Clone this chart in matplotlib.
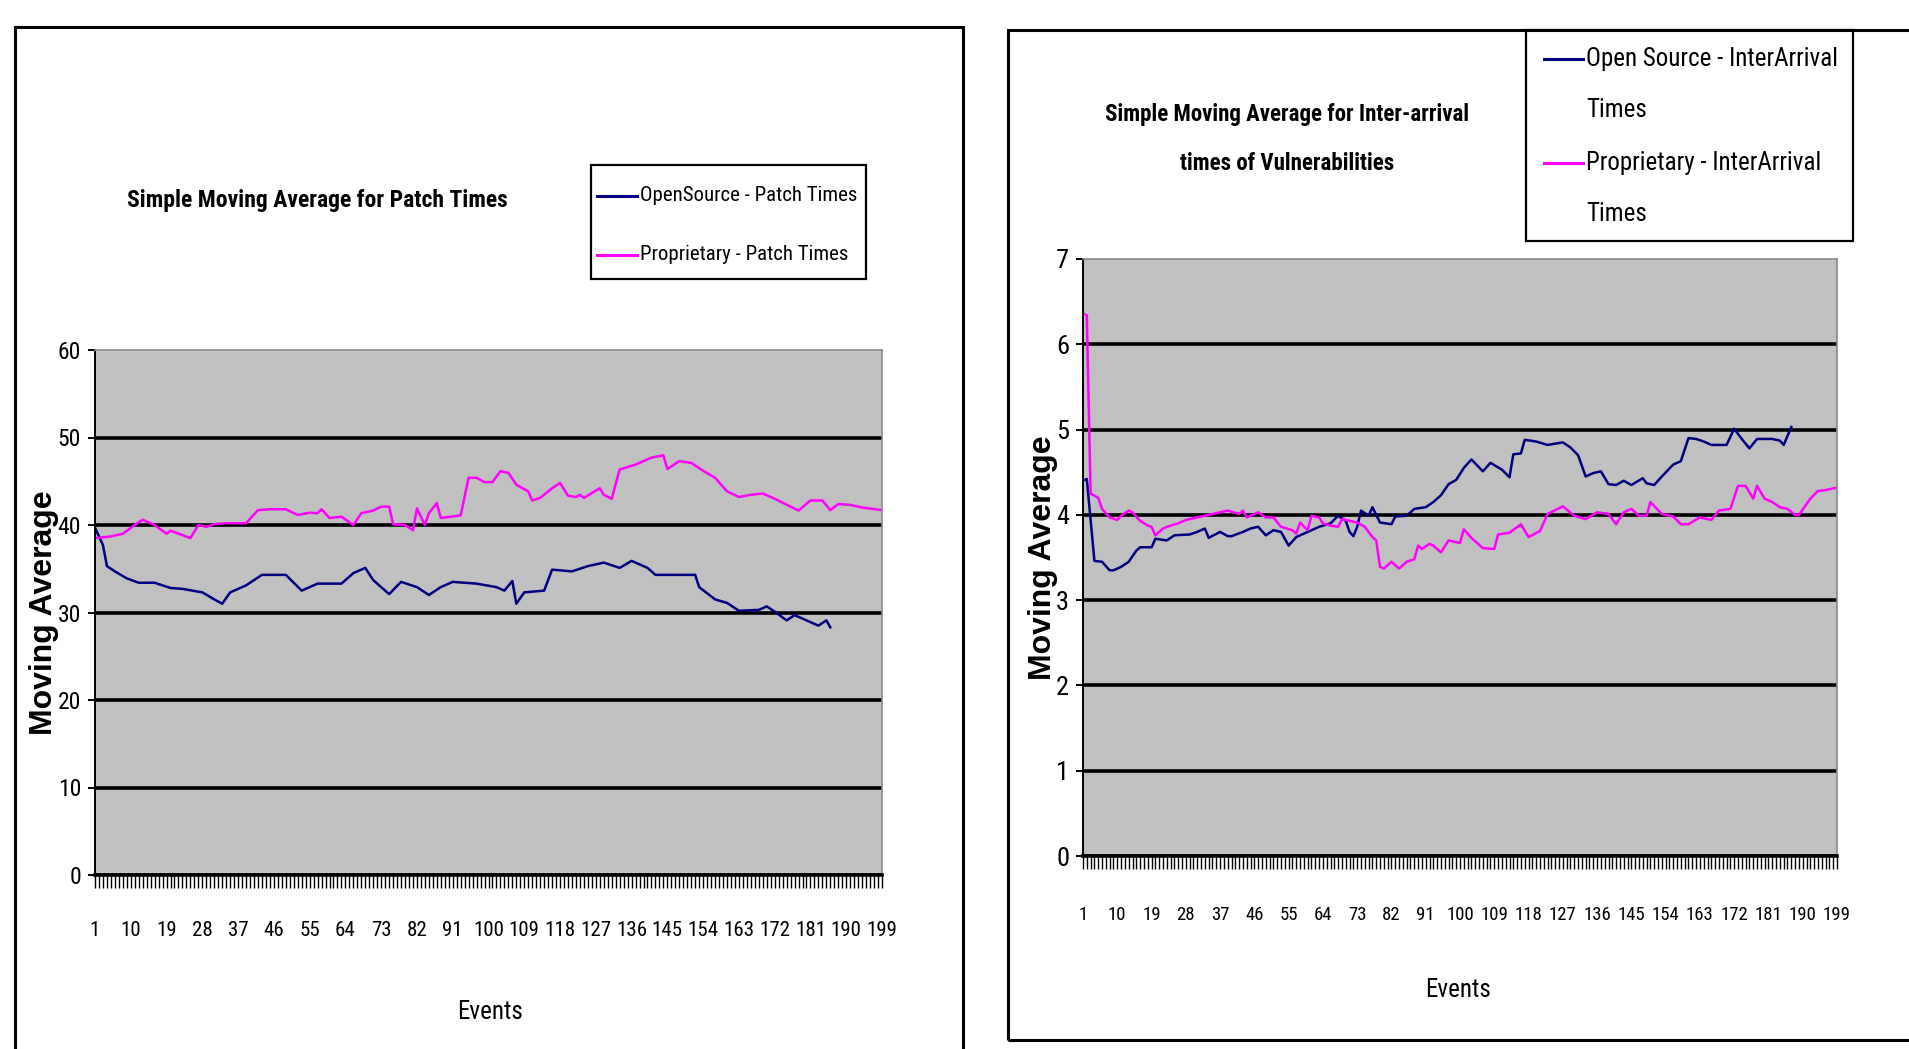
import os

import matplotlib
matplotlib.use("Agg")
import matplotlib.pyplot as plt
from matplotlib import font_manager as fm
from matplotlib.lines import Line2D
from matplotlib.patches import Rectangle

W, H = 1909, 1049

# --- moving average of patch times (events, value) ---
os_patch_ev = [1, 3, 4, 6, 9, 12, 16, 20, 23, 28, 31, 33, 35, 39, 43, 49, 53, 57, 63, 66,
               69, 71, 75, 78, 82, 85, 88, 91, 97, 102, 104, 106, 107, 109, 114, 116, 121,
               125, 129, 133, 136, 140, 142, 145, 152, 153, 157, 160, 163, 168, 170, 172,
               175, 177, 180, 183, 185, 186]
os_patch = [39.7, 37.7, 35.3, 34.7, 33.9, 33.4, 33.4, 32.8, 32.7, 32.3, 31.5, 31.0, 32.3,
            33.1, 34.3, 34.3, 32.5, 33.3, 33.3, 34.5, 35.1, 33.7, 32.1, 33.5, 32.9, 32.0,
            32.9, 33.5, 33.3, 32.9, 32.5, 33.6, 31.0, 32.3, 32.5, 34.9, 34.7, 35.3, 35.7,
            35.1, 35.9, 35.1, 34.3, 34.3, 34.3, 32.9, 31.5, 31.1, 30.2, 30.3, 30.7, 30.1,
            29.1, 29.7, 29.1, 28.5, 29.1, 28.3]

prop_patch_ev = [1, 5, 8, 11, 13, 16, 19, 20, 23, 25, 27, 29, 31, 34, 39, 42, 45, 49, 52,
                 55, 57, 58, 60, 63, 66, 68, 71, 73, 75, 76, 79, 81, 82, 84, 85, 87, 88, 93,
                 95, 97, 99, 101, 103, 105, 107, 110, 111, 113, 116, 118, 120, 122, 123,
                 124, 128, 129, 131, 133, 137, 139, 141, 144, 145, 148, 151, 154, 157, 160,
                 163, 166, 169, 172, 178, 181, 184, 186, 188, 191, 194, 199]
prop_patch = [38.5, 38.7, 39.0, 40.0, 40.6, 40.0, 39.0, 39.35, 38.85, 38.5, 40.0, 39.8,
              40.1, 40.2, 40.2, 41.7, 41.8, 41.8, 41.15, 41.4, 41.35, 41.8, 40.8, 40.95,
              40.0, 41.35, 41.65, 42.1, 42.1, 40.1, 40.0, 39.4, 41.9, 40.0, 41.35, 42.5,
              40.8, 41.1, 45.4, 45.4, 44.9, 44.9, 46.15, 45.96, 44.6, 43.85, 42.8, 43.1,
              44.2, 44.8, 43.35, 43.2, 43.45, 43.1, 44.2, 43.45, 43.0, 46.35, 46.9, 47.3,
              47.7, 47.96, 46.4, 47.3, 47.1, 46.2, 45.4, 43.85, 43.2, 43.45, 43.6, 43.0,
              41.65, 42.8, 42.8, 41.7, 42.4, 42.3, 42.0, 41.7]

# --- moving average of inter-arrival times (events, value) ---
os_iat_ev = [1, 2, 4, 6, 8, 9, 11, 13, 15, 16, 19, 20, 23, 25, 29, 31, 33, 34, 37, 39, 40,
             43, 45, 47, 49, 51, 53, 55, 57, 59, 63, 66, 68, 70, 71, 72, 73, 74, 76, 77,
             79, 82, 83, 86, 88, 91, 93, 95, 97, 99, 101, 103, 106, 108, 111, 113, 114,
             116, 117, 120, 123, 127, 129, 131, 133, 135, 137, 139, 141, 143, 145, 148,
             149, 151, 153, 156, 158, 160, 162, 164, 166, 170, 172, 174, 176, 178, 182,
             184, 185, 187]
os_iat = [4.4, 4.42, 3.46, 3.45, 3.35, 3.35, 3.39, 3.45, 3.58, 3.62, 3.62, 3.72, 3.7, 3.76,
          3.77, 3.8, 3.84, 3.73, 3.8, 3.75, 3.75, 3.8, 3.84, 3.86, 3.76, 3.82, 3.8, 3.64,
          3.74, 3.78, 3.86, 3.9, 3.99, 3.93, 3.8, 3.75, 3.86, 4.05, 3.99, 4.09, 3.91, 3.89,
          3.98, 3.99, 4.07, 4.09, 4.15, 4.23, 4.36, 4.41, 4.55, 4.65, 4.51, 4.61, 4.53,
          4.44, 4.71, 4.72, 4.88, 4.86, 4.82, 4.85, 4.79, 4.7, 4.45, 4.49, 4.51, 4.36, 4.35,
          4.4, 4.35, 4.43, 4.37, 4.35, 4.45, 4.59, 4.63, 4.9, 4.89, 4.86, 4.82, 4.82, 5.01,
          4.89, 4.78, 4.89, 4.89, 4.87, 4.82, 5.03]

prop_iat_ev = [1, 2, 3, 5, 6, 8, 10, 11, 13, 14, 16, 18, 19, 20, 22, 24, 26, 28, 31, 35, 39,
               42, 43, 44, 47, 49, 51, 53, 56, 57, 58, 60, 61, 63, 64, 66, 68, 69, 71, 73,
               75, 77, 78, 79, 80, 82, 84, 86, 88, 89, 90, 92, 93, 95, 97, 100, 101, 103,
               106, 109, 110, 113, 116, 118, 121, 123, 127, 130, 133, 136, 139, 141, 143,
               145, 147, 149, 150, 153, 156, 158, 160, 163, 166, 168, 171, 173, 175, 177,
               178, 180, 182, 184, 186, 188, 189, 192, 194, 196, 199]
prop_iat = [6.36, 6.34, 4.25, 4.2, 4.07, 3.97, 3.94, 3.99, 4.05, 4.03, 3.93, 3.875, 3.86,
            3.76, 3.84, 3.875, 3.9, 3.94, 3.97, 4.01, 4.05, 4.01, 4.05, 3.97, 4.03, 3.97,
            3.97, 3.86, 3.82, 3.78, 3.91, 3.82, 3.99, 3.97, 3.9, 3.875, 3.86, 3.95, 3.93,
            3.91, 3.86, 3.74, 3.7, 3.39, 3.37, 3.45, 3.37, 3.45, 3.48, 3.64, 3.6, 3.66,
            3.64, 3.56, 3.7, 3.67, 3.83, 3.73, 3.61, 3.6, 3.77, 3.79, 3.89, 3.74, 3.81,
            4.01, 4.1, 3.99, 3.95, 4.03, 4.01, 3.89, 4.03, 4.07, 3.99, 3.99, 4.15, 4.01,
            3.98, 3.89, 3.89, 3.97, 3.94, 4.05, 4.07, 4.34, 4.34, 4.19, 4.34, 4.19, 4.15,
            4.09, 4.07, 4.0, 4.0, 4.19, 4.28, 4.29, 4.32]

event_labels = list(range(1, 200, 9))

NAVY = "#000080"
MAGENTA = "#FF00FF"


def find_font(patterns):
    """Return the path of the first installed font file whose name starts with a pattern."""
    files = {os.path.basename(f.fname): f.fname for f in fm.fontManager.ttflist}
    for pat in patterns:
        for base, path in sorted(files.items()):
            if base.startswith(pat):
                return path
    return None


reg_path = find_font(["LiberationSansNarrow-Regular", "NotoSans-ExtraCondensed.",
                      "RobotoCondensed-Regular", "NotoSans-Condensed.",
                      "DejaVuSansCondensed."])
bold_path = find_font(["LiberationSansNarrow-Bold.", "NotoSans-ExtraCondensedBold",
                       "RobotoCondensed-Bold", "NotoSans-CondensedBold",
                       "DejaVuSansCondensed-Bold"])
if reg_path and bold_path:
    NARROW = fm.FontProperties(fname=reg_path)
    NARROW_BOLD = fm.FontProperties(fname=bold_path)
    SCALE = 1.0
else:
    NARROW = fm.FontProperties(family="Liberation Sans")
    NARROW_BOLD = fm.FontProperties(family="Liberation Sans", weight="bold")
    SCALE = 0.85


def fp(base, size):
    prop = base.copy()
    prop.set_size(size * SCALE)
    return prop


def fx(px):
    return px / W


def fy(py):
    return 1 - py / H


def setup_axes(ax, ymax, ystep, xtick_size, ytick_size, xpad, ylabel_x, xlabel_pos):
    ax.set_facecolor("#C0C0C0")
    ax.set_xlim(1, 199)
    ax.set_ylim(0, ymax)
    ax.set_yticks(range(0, ymax + 1, ystep))
    ax.set_xticks(event_labels)
    ax.set_xticklabels([str(v) for v in event_labels])
    ax.set_xticks(range(1, 200), minor=True)
    ax.yaxis.grid(True, color="black", lw=2.6)
    ax.get_ygridlines()[-1].set_visible(False)
    ax.set_axisbelow(True)
    for side in ("top", "right"):
        ax.spines[side].set_color("#8A8A8A")
        ax.spines[side].set_linewidth(1.2)
    ax.spines["left"].set_linewidth(1.4)
    ax.spines["bottom"].set_linewidth(2.6)
    ax.tick_params(axis="x", which="both", direction="out", length=9, width=1.0, pad=xpad)
    ax.tick_params(axis="y", direction="out", length=5, width=1.4, pad=5)
    for lab in ax.get_xticklabels():
        lab.set_fontproperties(fp(NARROW, xtick_size))
    for lab in ax.get_yticklabels():
        lab.set_fontproperties(fp(NARROW, ytick_size))
    ax.set_ylabel("Moving Average", family=["Liberation Sans", "DejaVu Sans"],
                  fontsize=23, fontweight="bold")
    ax.yaxis.set_label_coords(ylabel_x, 0.5)
    ax.set_xlabel("Events", fontproperties=fp(NARROW, 18))
    ax.xaxis.set_label_coords(*xlabel_pos)


def draw_key(fig, box, entries, size):
    x0, y0, x1, y1 = box
    fig.add_artist(Rectangle((fx(x0), fy(y1)), fx(x1) - fx(x0), fy(y0) - fy(y1),
                             transform=fig.transFigure, fill=False, ec="black", lw=1.6))
    for color, ly, hx0, hx1, lines in entries:
        fig.add_artist(Line2D([fx(hx0), fx(hx1)], [fy(ly), fy(ly)],
                              transform=fig.transFigure, color=color, lw=2.2))
        for text, ty in lines:
            fig.text(fx(hx1 + 3), fy(ty), text, fontproperties=fp(NARROW, size),
                     ha="left", va="center")


fig = plt.figure(figsize=(W / 100, H / 100), dpi=100)
fig.patch.set_facecolor("white")

# panel frames
fig.add_artist(Rectangle((fx(15), -0.05), fx(963) - fx(15), fy(27) + 0.05,
                         transform=fig.transFigure, fill=False, ec="black", lw=2.2))
fig.add_artist(Rectangle((fx(1008), fy(1040)), 0.5, fy(30) - fy(1040),
                         transform=fig.transFigure, fill=False, ec="black", lw=2.2))

# left chart: patch times
ax1 = fig.add_axes([fx(95), fy(875), fx(882) - fx(95), fy(350) - fy(875)])
setup_axes(ax1, 60, 10, 15, 17, 24, -0.046, (0.502, -0.238))
ax1.plot(os_patch_ev, os_patch, color=NAVY, lw=1.8)
ax1.plot(prop_patch_ev, prop_patch, color=MAGENTA, lw=1.8)
fig.text(fx(317), fy(200), "Simple Moving Average for Patch Times",
         fontproperties=fp(NARROW_BOLD, 17), ha="center", va="center")
draw_key(fig, (591, 165, 866, 279),
         [(NAVY, 196, 597, 637, [("OpenSource - Patch Times", 196)]),
          (MAGENTA, 255, 597, 637, [("Proprietary - Patch Times", 255)])], 15)

# right chart: inter-arrival times
ax2 = fig.add_axes([fx(1083), fy(856), fx(1837) - fx(1083), fy(259) - fy(856)])
setup_axes(ax2, 7, 1, 13.5, 19, 27, -0.033, (0.497, -0.204))
ax2.plot(os_iat_ev, os_iat, color=NAVY, lw=1.8)
ax2.plot(prop_iat_ev, prop_iat, color=MAGENTA, lw=1.8)
fig.text(fx(1287), fy(139), "Simple Moving Average for Inter-arrival\ntimes of Vulnerabilities",
         fontproperties=fp(NARROW_BOLD, 16.5), ha="center", va="center", linespacing=2.5)
draw_key(fig, (1526, 30, 1853, 241),
         [(NAVY, 59, 1544, 1583, [("Open Source - InterArrival", 59), ("Times", 110)]),
          (MAGENTA, 163, 1544, 1583, [("Proprietary - InterArrival", 163), ("Times", 214)])],
         18)

fig.savefig("out.png", dpi=100)
plt.close(fig)
